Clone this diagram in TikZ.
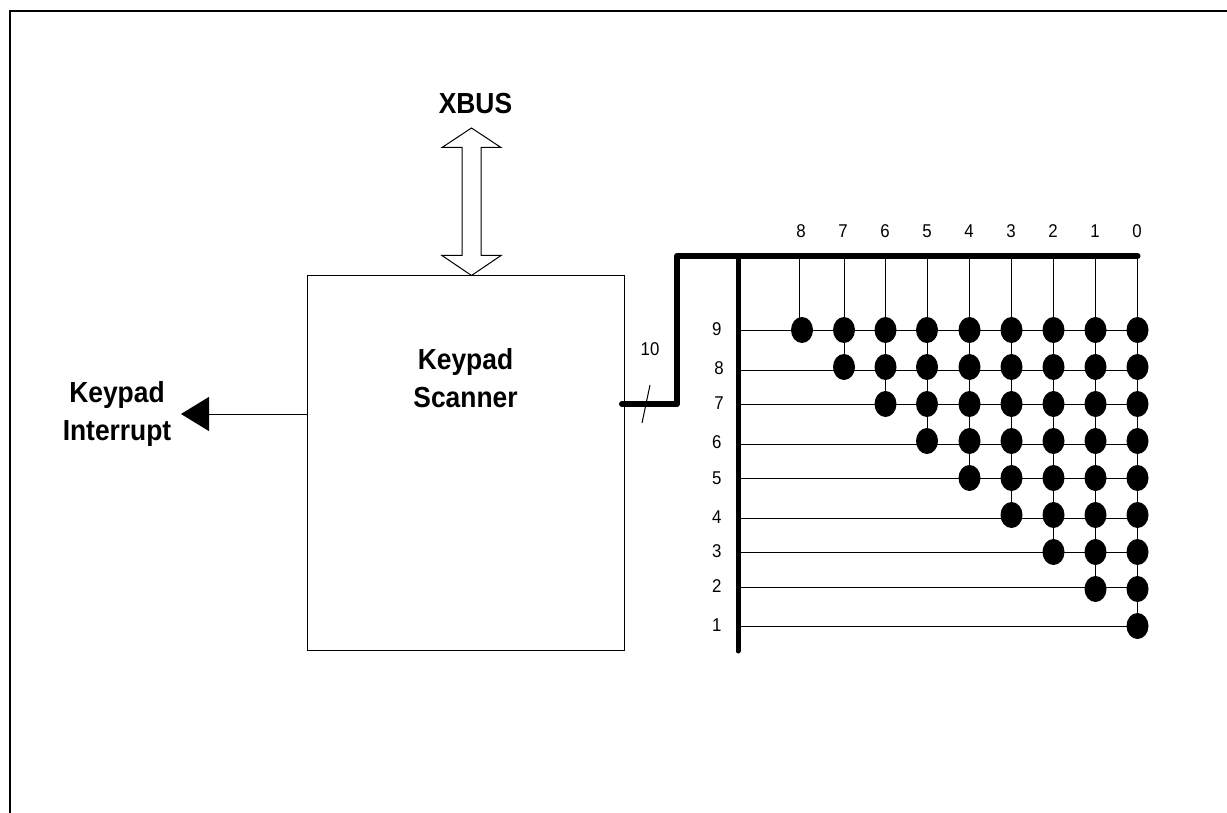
\documentclass[tikz,border=0pt]{standalone}
\usepackage{fontspec}
\setmainfont[FakeStretch=0.91]{Liberation Sans}
\usetikzlibrary{shapes.geometric,arrows.meta}
\tikzset{
  thinline/.style={line width=1pt},
  busline/.style={line width=6pt,line cap=round,line join=round},
  keydot/.style={ellipse,fill=black,draw=none,minimum width=22pt,minimum height=26pt,inner sep=0pt},
  biglabel/.style={font=\fontsize{29}{37.5}\selectfont\bfseries,align=center,inner sep=0pt},
  numlabel/.style={font=\fontsize{18.5}{22}\selectfont,inner sep=0pt,text height=13.3pt,text depth=0pt}
}
\begin{document}
\begin{tikzpicture}[x=1pt,y=-1pt]
\useasboundingbox (0,0) rectangle (1227,813);

% frame
\draw[line width=2.4pt] (10,815) -- (10,11) -- (1229,11);

% scanner
\node[draw,thinline,minimum width=317pt,minimum height=374pt,inner sep=0pt] (scanner) at (465.5,463) {};
\node[biglabel] (scantext) at (465.5,378) {Keypad\\Scanner};
\node[biglabel] (xbus) at (475.5,104) {XBUS};
\node[biglabel] (inttext) at (117,414) {Keypad\\Interrupt};

% xbus arrow
\draw[thinline,fill=white] (471.5,128) -- (501,147.5) -- (481,147.5) -- (481,255.5) -- (501,255.5)
  -- (471.5,275.5) -- (442,255.5) -- (462,255.5) -- (462,147.5) -- (442,147.5) -- cycle;

% interrupt arrow
\coordinate (inttip) at (181,414);
\draw[thinline,-{Triangle[length=28pt,width=34pt]}] (scanner.west |- inttip) -- (inttip);

% buses
\coordinate (busstart) at (622,404);
\coordinate (buscorner) at (677,404);
\coordinate (bustop) at (677,256);
\coordinate (busend) at (1137.5,256);
\coordinate (rowtop) at (738,256);
\coordinate (rowend) at (738,651);
\draw[busline] (busstart) -- (buscorner) -- (bustop) -- (busend);
\draw[busline,line width=5pt] (rowtop) -- (rowend);

% slash
\coordinate (slashtop) at (650,385);
\coordinate (slashbot) at (642,423);
\draw[thinline] (slashtop) -- (slashbot);
\node[numlabel] (wirecount) at (650,349) {10};

% dots
\foreach \col/\xpos/\lastrow in {8/802/9,7/844/8,6/885.5/7,5/927/6,4/969.5/5,3/1011.5/4,2/1053.5/3,1/1095.5/2,0/1137.5/1}{
  \foreach \row/\ypos in {9/330,8/367,7/404,6/441,5/478,4/515,3/552,2/589,1/626}{
    \ifnum\row<\lastrow\else
      \node[keydot] (key\col-\row) at (\xpos,\ypos) {};
    \fi
  }
}

% rows
\foreach \row/\ylin/\xtxt/\ytxt in {9/330/716.7/329,8/370/719/368,7/404/719/403,6/444/716.7/442,5/478/716.7/477.7,
    4/518/716.7/516.7,3/552/716.7/551,2/587/716.7/585.7,1/626/716.7/625}{
  \node[numlabel] (rowlabel\row) at (\xtxt,\ytxt) {\row};
  \coordinate (rowstart\row) at (741,\ylin);
  \draw[thinline] (rowstart\row) -- (rowstart\row -| key0-\row.center);
}

% columns
\foreach \col/\lastrow/\xwire/\xtxt in {8/9/799.3/801,7/8/844/843,6/7/885.5/885,5/6/927/927,
    4/5/969.5/969,3/4/1011.5/1011,2/3/1053.5/1053,1/2/1095.5/1095,0/1/1137.5/1137}{
  \node[numlabel] (collabel\col) at (\xtxt,230.7) {\col};
  \coordinate (coltop\col) at (\xwire,256);
  \draw[thinline] (coltop\col) -- (coltop\col |- key\col-\lastrow.center);
}

\end{tikzpicture}
\end{document}
